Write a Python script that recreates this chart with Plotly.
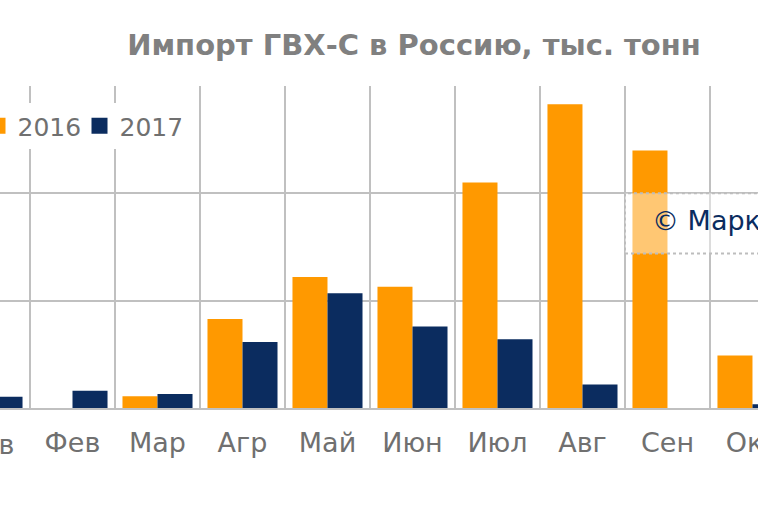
import plotly.graph_objects as go

months = ["Янв", "Фев", "Мар", "Агр", "Май", "Июн", "Июл", "Авг", "Сен", "Окт", "Ноя", "Дек"]
vals_2016 = [1.2, 0.0, 1.1, 8.3, 12.2, 11.3, 21.0, 28.3, 24.0, 4.9, None, None]
vals_2017 = [1.05, 1.6, 1.3, 6.15, 10.7, 7.6, 6.4, 2.2, 0.0, 0.35, None, None]
years = ["2016", "2017"]
colors = ["#FF9900", "#0B2C5F"]
title_text = "Импорт ГВХ-С в Россию, тыс. тонн"
watermark = "© Маркетинг"

fig = go.Figure()
for name, vals, col in zip(years, [vals_2016, vals_2017], colors):
    fig.add_trace(go.Bar(x=months, y=vals, name=name, marker_color=col,
                         marker_line_width=0, showlegend=False))
for name, col in zip(years, colors):
    fig.add_trace(go.Scatter(x=[None], y=[None], mode="markers", name=name,
                             marker=dict(symbol="square", size=16, color=col)))

fig.add_shape(type="rect", xref="paper", yref="y", x0=625/758, x1=1.05, y0=14.4, y1=20,
              fillcolor="rgba(255,255,255,0.45)", line=dict(color="#BDBDBD", width=2, dash="dot"),
              layer="above")
fig.add_annotation(text=watermark, xref="paper", yref="y", x=650/758, y=17.5,
                   xanchor="left", yanchor="middle", showarrow=False,
                   font=dict(family="DejaVu Sans", size=27, color="#0B2C5F"))
# partially visible first month label at the cropped left edge
fig.add_annotation(text=months[0], xref="paper", yref="paper", x=-12.5/758, y=0,
                   xanchor="center", yanchor="top", yshift=-19, showarrow=False,
                   font=dict(family="DejaVu Sans", size=27, color="#707070"))

fig.update_layout(
    width=758, height=505,
    margin=dict(l=0, r=0, t=86, b=97, autoexpand=False),
    paper_bgcolor="white", plot_bgcolor="white",
    barmode="group", bargap=0.176, bargroupgap=0,
    title=dict(text=title_text, x=414/758, xanchor="center", y=1-45/505, yanchor="middle",
               font=dict(family="DejaVu Sans", size=29, color="#808080", weight="bold")),
    legend=dict(orientation="h", x=-22.5/758, xanchor="left", y=1-17/322, yanchor="top",
                bgcolor="white", entrywidth=57, entrywidthmode="pixels",
                font=dict(family="DejaVu Sans", size=25, color="#707070")),
    xaxis=dict(range=[0.147, 9.065], tickson="boundaries", showgrid=True, gridcolor="#C0C0C0",
               gridwidth=2, ticks="", showline=True, linecolor="#C0C0C0", linewidth=2,
               tickfont=dict(family="DejaVu Sans", size=27, color="#707070"),
               ticklabelstandoff=10),
    yaxis=dict(range=[0, 30], dtick=10, showgrid=True, gridcolor="#C0C0C0", gridwidth=2,
               showticklabels=False, zeroline=False, showline=False),
)
fig.write_html("out.html", config={"displayModeBar": False},
               post_script="document.body.style.margin='0px';document.body.style.overflow='hidden';")
